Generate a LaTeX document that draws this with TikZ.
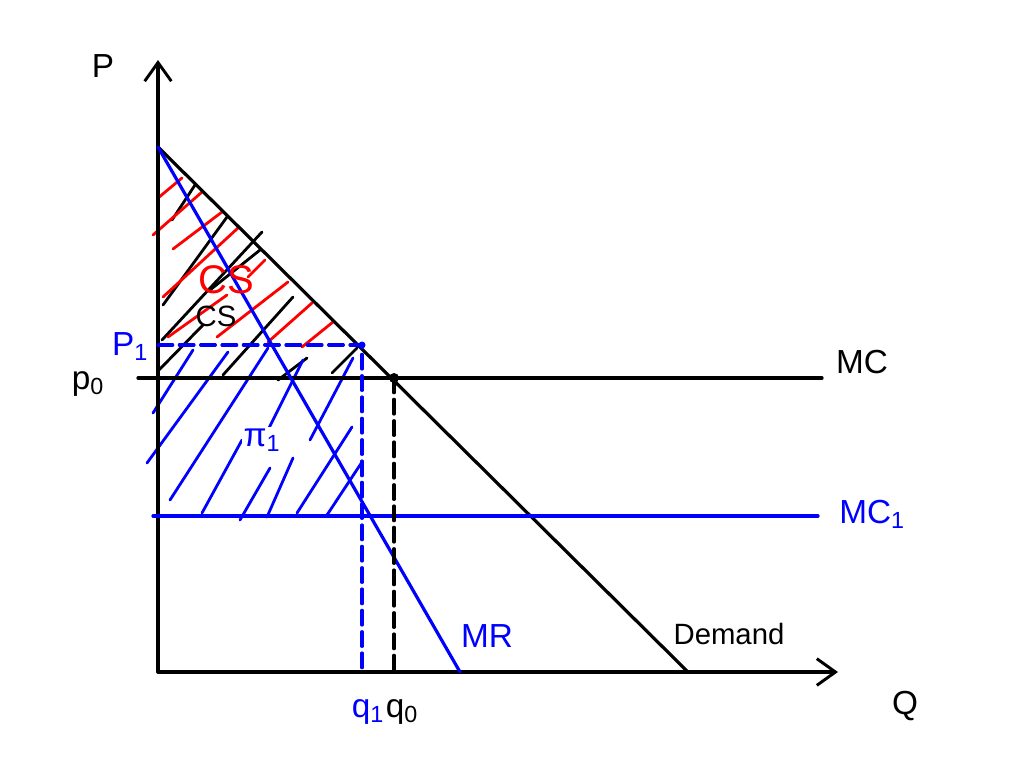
\documentclass[tikz,border=0pt]{standalone}
\usepackage{fontspec}
\setmainfont{Liberation Sans}
\usetikzlibrary{arrows.meta}

\begin{document}
\begin{tikzpicture}[x=0.75pt,y=-0.75pt, line cap=round,
    axis/.style={line width=2.4pt,-{Straight Barb[length=14pt,width=20pt,line width=2.2pt]}},
    curve/.style={line width=2.4pt},
    hatch/.style={line width=2.1pt},
    guide/.style={line width=2.4pt,dash pattern=on 11pt off 5pt},
    lbl/.style={font=\fontsize{25}{27}\selectfont},
    small/.style={font=\fontsize{22}{24}\selectfont}]
    \useasboundingbox (0,0) rectangle (1024,768);
    % corners of the diagram
    \coordinate (O) at (158,672);
    \coordinate (Ptop) at (158,147);
    \coordinate (Dend) at (688,672);
    \coordinate (MRend) at (460,672);
    \coordinate (E0) at (394,378);
    \coordinate (E1) at (362,345);
    \coordinate (P1) at (158,345);
    \coordinate (Q1) at (362,672);
    \coordinate (Q0) at (394,672);
    \coordinate (MCa) at (138,378);
    \coordinate (MCb) at (822,378);
    \coordinate (MCc) at (153,516);
    \coordinate (MCd) at (818,516);
    \coordinate (Ytip) at (158,60);
    \coordinate (Xtip) at (838,672);
    % hatching
    \foreach \a/\b/\c/\d in {172/220/195/185, 163/305/227/217, 210/290/260/250, 162/340/262/232,
        157/372/203/325, 223/375/293/297, 278/380/307/358, 332/373/357/348} {
        \draw[hatch] (\a,\b) -- (\c,\d);
    }
    \foreach \a/\b/\c/\d in {158/198/182/178, 153/235/202/192, 173/249/222/212, 163/297/238/228,
        248/277/265/260, 168/337/227/295, 217/337/288/282, 268/342/312/303, 302/347/333/322} {
        \draw[hatch, red] (\a,\b) -- (\c,\d);
    }
    \foreach \a/\b/\c/\d in {153/413/193/350, 147/463/228/352, 170/500/268/348, 202/513/242/440,
        240/520/270/468, 267/517/293/458, 268/430/303/360, 297/513/352/427, 327/515/362/462,
        310/440/353/358} {
        \draw[hatch, blue] (\a,\b) -- (\c,\d);
    }
    % axes
    \draw[axis] (O) -- (Ytip);
    \draw[axis] (O) -- (Xtip);
    % curves
    \draw[curve] (Ptop) -- (Dend);
    \draw[curve] (MCa) -- (MCb);
    \draw[curve, blue] (MCc) -- (MCd);
    \draw[curve, blue] (Ptop) -- (MRend);
    % monopoly and competitive points
    \draw[guide, blue] (P1) -- (E1) -- (Q1);
    \draw[guide] (E0) -- (Q0);
    \fill (E0) circle (5);
    \fill[blue] (E1) circle (3.5);
    % labels
    \node[lbl] (Plbl) at (103,66) {P};
    \node[lbl] (Qlbl) at (905,706) {Q};
    \node[lbl] (p0) at (88,384) {p\textsubscript{0}};
    \node[lbl, blue] (p1) at (130,347) {P\textsubscript{1}};
    \node[lbl] (MClbl) at (862,362) {MC};
    \node[lbl, blue] (MC1lbl) at (872,514) {MC\textsubscript{1}};
    \node[lbl, blue] (MRlbl) at (487,636) {MR};
    \node[small] (Dlbl) at (729,634) {Demand};
    \node[lbl, blue, fill=white, inner sep=1pt] (pilbl) at (262,440) {π\textsubscript{1}};
    \node[red, inner sep=0pt, font=\fontsize{30}{32}\selectfont] (CSred) at (226,280) {CS};
    \node[small, inner sep=0pt] (CSblk) at (216,316) {CS};
    \node[lbl, blue] (q1) at (368,712) {q\textsubscript{1}};
    \node[lbl] (q0) at (402,712) {q\textsubscript{0}};
\end{tikzpicture}
\end{document}
